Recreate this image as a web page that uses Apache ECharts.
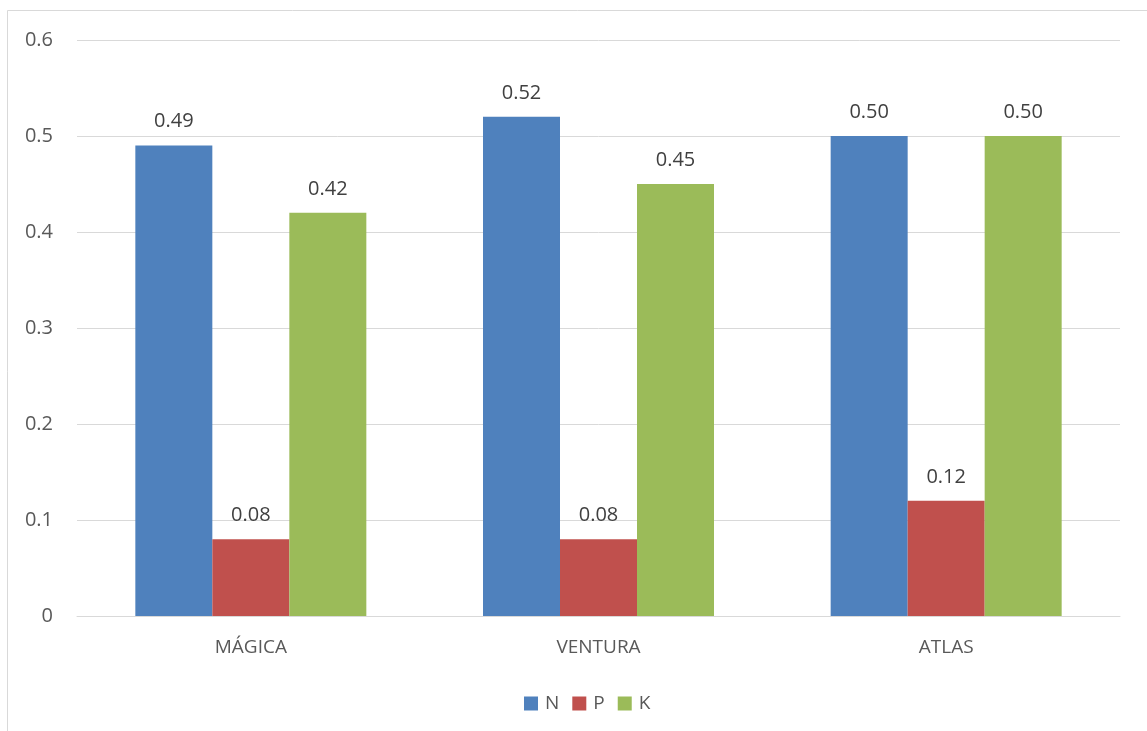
<!DOCTYPE html>
<html>
<head>
<meta charset="utf-8">
<script src="https://cdn.jsdelivr.net/npm/echarts@6/dist/echarts.min.js"></script>
<style>html,body{margin:0;padding:0;background:#fff}#c{width:1147px;height:731px}</style>
</head>
<body>
<div id="c"></div>
<script>
var categories = ['MÁGICA', 'VENTURA', 'ATLAS'];
var seriesNames = ['N', 'P', 'K'];
var nValues = [0.49, 0.52, 0.50];
var pValues = [0.08, 0.08, 0.12];
var kValues = [0.42, 0.45, 0.50];
var yTicks = [0, 0.1, 0.2, 0.3, 0.4, 0.5, 0.6];
var colors = ['#4f81bd', '#c0504d', '#9bbb59'];

var font = '"Open Sans", sans-serif';
var chart = echarts.init(document.getElementById('c'), null, {renderer: 'canvas'});
function mk(name, data, color) {
  return {
    name: name, type: 'bar', data: data, barWidth: 77, barGap: '0%',
    itemStyle: {color: color},
    label: {show: true, position: 'top', distance: 14, color: '#404040', fontSize: 20, fontFamily: font,
      formatter: function (p) { return p.value.toFixed(2); }}
  };
}
chart.setOption({
  animation: false,
  backgroundColor: '#fff',
  graphic: [{type: 'rect', shape: {x: 7.5, y: 10.5, width: 1300, height: 900}, style: {fill: 'none', stroke: '#d9d9d9', lineWidth: 1}, silent: true, z: -1}],
  grid: {left: 77, right: 27, top: 40, bottom: 115, containLabel: false},
  legend: {top: 689, left: 519, itemWidth: 14, itemHeight: 14, itemGap: 13, icon: 'rect',
    textStyle: {color: '#595959', fontSize: 19, fontFamily: font, padding: [0, 0, 0, 2]},
    data: seriesNames},
  xAxis: {type: 'category', data: categories,
    axisLine: {lineStyle: {color: '#d9d9d9', width: 1}}, axisTick: {show: false},
    axisLabel: {color: '#595959', fontSize: 19, fontFamily: font, margin: 22}},
  yAxis: {type: 'value', min: yTicks[0], max: yTicks[yTicks.length - 1], interval: 0.1,
    axisLine: {show: false}, axisTick: {show: false},
    splitLine: {lineStyle: {color: '#d9d9d9', width: 1}},
    axisLabel: {color: '#595959', fontSize: 20, fontFamily: font, margin: 24,
      formatter: function (v) { return v === 0 ? '0' : v.toFixed(1); }}},
  series: [mk(seriesNames[0], nValues, colors[0]), mk(seriesNames[1], pValues, colors[1]), mk(seriesNames[2], kValues, colors[2])]
});
</script>
</body>
</html>
